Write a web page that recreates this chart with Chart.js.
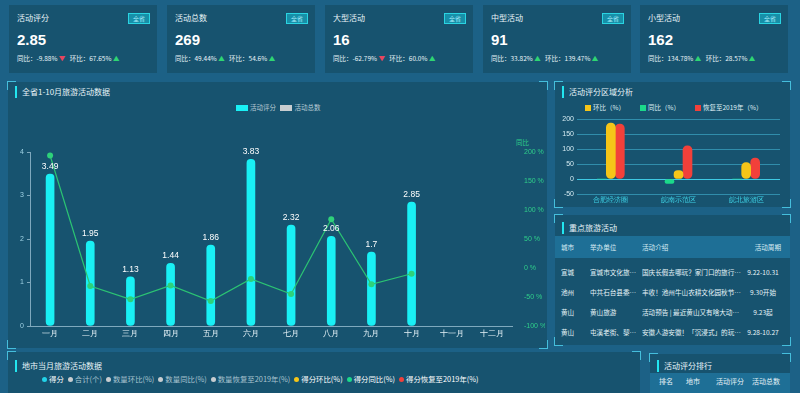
<!DOCTYPE html>
<html lang="zh">
<head>
<meta charset="UTF-8">
<title>旅游活动数据</title>
<script src="https://cdn.jsdelivr.net/npm/chart.js"></script>
<style>
  body { margin:0; width:800px; height:393px; overflow:hidden; background:#1c6186; position:relative;
         font-family:"Noto Sans CJK SC", "Noto Sans", sans-serif; color:#e8f4f8; }
  .card { position:absolute; top:5px; width:148px; height:68px; background:#17536f; }
  .card .t { position:absolute; left:8px; top:7px; font-size:8px; line-height:12px; }
  .card .tag { position:absolute; right:7px; top:8px; font-size:6px; line-height:9px; padding:0 4px;
               border:1px solid #2ad4e2; background:#178fa8; color:#aef; }
  .card .v { position:absolute; left:8px; top:26px; font:bold 15px/18px "Liberation Sans", Arial, sans-serif; color:#fff; }
  .card .s { position:absolute; left:8px; top:48px; font-size:6.5px; line-height:10px; white-space:nowrap; }
  .up { color:#2ed573; } .down { color:#e8455e; }
  .panel { position:absolute; background:#17536f; }
  .c { position:absolute; width:8px; height:8px; border-color:#45bedc; border-style:solid; border-width:0; }
  .ptitle { position:absolute; left:7px; top:4px; font-size:8px; line-height:12px; padding-left:5px; border-left:2px solid #22e6f0; white-space:nowrap; }
  .lg { position:absolute; font-size:6.5px; line-height:10px; white-space:nowrap; color:#dfeef4; }
  .lg i { display:inline-block; vertical-align:middle; margin-right:2px; }
  #cityLegend span.it { margin-right:4px; }
  canvas { position:absolute; }
  table { position:absolute; border-collapse:collapse; table-layout:fixed; font-size:6.6px; color:#e6f3f8; }
  td, th { padding:0; font-weight:normal; white-space:nowrap; overflow:hidden; text-overflow:ellipsis; text-align:left; }
</style>
</head>
<body>

<div class="card" style="left:9px"><div class="t">活动评分</div><div class="tag">全省</div><div class="v">2.85</div>
  <div class="s">同比：-9.88% <span class="down">▼</span>&nbsp;&nbsp; 环比：67.65% <span class="up">▲</span></div></div>
<div class="card" style="left:167px"><div class="t">活动总数</div><div class="tag">全省</div><div class="v">269</div>
  <div class="s">同比：49.44% <span class="up">▲</span>&nbsp;&nbsp; 环比：54.6% <span class="up">▲</span></div></div>
<div class="card" style="left:325px"><div class="t">大型活动</div><div class="tag">全省</div><div class="v">16</div>
  <div class="s">同比：-62.79% <span class="down">▼</span>&nbsp;&nbsp; 环比：60.0% <span class="up">▲</span></div></div>
<div class="card" style="left:483px"><div class="t">中型活动</div><div class="tag">全省</div><div class="v">91</div>
  <div class="s">同比：33.82% <span class="up">▲</span>&nbsp;&nbsp; 环比：139.47% <span class="up">▲</span></div></div>
<div class="card" style="left:640px"><div class="t">小型活动</div><div class="tag">全省</div><div class="v">162</div>
  <div class="s">同比：134.78% <span class="up">▲</span>&nbsp;&nbsp; 环比：28.57% <span class="up">▲</span></div></div>

<!-- 全省1-10月 -->
<div class="panel" style="left:8px;top:82px;width:539px;height:266px">
  <div class="ptitle">全省1-10月旅游活动数据</div>
</div>
<div class="lg" style="left:236px;top:102px;color:#b9ccd6"><i style="width:12px;height:6px;background:#19f0f5"></i>活动评分&nbsp;&nbsp;&nbsp;<i style="width:12px;height:6px;background:#c8cdd0"></i>活动总数</div>
<div class="lg" style="left:516px;top:137px;color:#2fcf8a">同比</div>
<canvas id="mainChart" width="535" height="215" style="left:10px;top:130px"></canvas>

<!-- 区域分析 -->
<div class="panel" style="left:555px;top:82px;width:235px;height:125px">
  <div class="ptitle">活动评分区域分析</div>
</div>
<div class="lg" style="left:585px;top:102px"><i style="width:6px;height:6px;background:#f5c518"></i>环比（%）</div>
<div class="lg" style="left:640px;top:102px"><i style="width:6px;height:6px;background:#1bd98a"></i>同比（%）</div>
<div class="lg" style="left:695px;top:102px"><i style="width:6px;height:6px;background:#f2403a"></i>恢复至2019年（%）</div>
<canvas id="areaChart" width="231" height="95" style="left:557px;top:112px"></canvas>

<!-- 重点旅游活动 -->
<div class="panel" style="left:555px;top:215px;width:235px;height:130px">
  <div class="ptitle" style="top:7px">重点旅游活动</div>
  <div style="position:absolute;left:0;top:21px;width:235px;height:22px;background:#1e6f96"></div>
</div>
<table id="evTable" style="left:561px;top:236px;width:222px"></table>

<!-- 地市当月 -->
<div class="panel" style="left:8px;top:352px;width:632px;height:50px">
  <div class="ptitle" style="top:8px">地市当月旅游活动数据</div>
</div>
<div class="lg" id="cityLegend" style="left:42px;top:374px;font-size:7.4px"></div>

<!-- 排行 -->
<div class="panel" style="left:650px;top:354px;width:140px;height:48px">
  <div class="ptitle" style="top:6px">活动评分排行</div>
  <div style="position:absolute;left:0;top:19px;width:140px;height:30px;background:#1e6f96"></div>
</div>
<div class="lg" style="left:659px;top:376px;font-size:7px;color:#e6f3f8">排名</div>
<div class="lg" style="left:686px;top:376px;font-size:7px;color:#e6f3f8">地市</div>
<div class="lg" style="left:716px;top:376px;font-size:7px;color:#e6f3f8">活动评分</div>
<div class="lg" style="left:752px;top:376px;font-size:7px;color:#e6f3f8">活动总数</div>

<script>
// ---- 数据 ----
const months = ['一月', '二月', '三月', '四月', '五月', '六月', '七月', '八月', '九月', '十月', '十一月', '十二月'];
const scores = [3.49, 1.95, 1.13, 1.44, 1.86, 3.83, 2.32, 2.06, 1.7, 2.85];
const scoreYoY = [194, -31, -54, -30, -57, -19, -45, 84, -28, -9.88];
const leftTicks = [0, 4, 1];
const rightTicks = [-100, 200, 50];

const areas = ['合肥经济圈', '皖南示范区', '皖北旅游区'];
const areaYoY = [0, -15, 0];
const areaMoM = [187, 28, 55];
const areaTo2019 = [184, 111, 70];
const areaTicks = [-50, 200, 50];

const events = [
    ['宣城', '宣城市文化旅…', '国庆长假去哪玩？家门口的旅行总归不会错的', '9.22-10.31'],
    ['池州', '中共石台县委…', '丰收！池州牛山农耕文化园秋节9月30日开幕', '9.30开始'],
    ['黄山', '黄山旅游', '活动预告 | 最近黄山又有啥大动作？快来看', '9.23起'],
    ['黄山', '屯溪老街、黎阳…', '安徽人游安徽！「沉浸式」的玩乐体验等你来', '9.28-10.27']
];
const cityItems = [
    ['得分', '#22d3e8', true], ['合计(个)', '#c8cdd0', false], ['数量环比(%)', '#c8cdd0', false],
    ['数量同比(%)', '#c8cdd0', false], ['数量恢复至2019年(%)', '#c8cdd0', false],
    ['得分环比(%)', '#f5c518', true], ['得分同比(%)', '#1bd98a', true], ['得分恢复至2019年(%)', '#f2403a', true]
];

// 面板角标
document.querySelectorAll('.panel').forEach(p => {
    [['left', 'top'], ['right', 'top'], ['left', 'bottom'], ['right', 'bottom']].forEach(([h, v]) => {
        const d = document.createElement('div');
        d.className = 'c';
        d.style[h] = '-1px';
        d.style[v] = '-1px';
        d.style['border-' + h + '-width'] = '1px';
        d.style['border-' + v + '-width'] = '1px';
        p.appendChild(d);
    });
});

// 表格
const tbl = document.getElementById('evTable');
tbl.innerHTML = '<colgroup><col style="width:29px"><col style="width:52px"><col style="width:101px"><col style="width:40px"></colgroup>' +
    '<tr style="height:22px;color:#d8ecf4"><th>城市</th><th>举办单位</th><th>活动介绍</th><th style="text-align:right;padding-right:2px">活动周期</th></tr>' +
    '<tr style="height:4px"><td colspan="4"></td></tr>' +
    events.map(r => '<tr style="height:20px"><td>' + r[0] + '</td><td>' + r[1] + '</td><td>' + r[2] + '</td><td style="text-align:center">' + r[3] + '</td></tr>').join('');

document.getElementById('cityLegend').innerHTML = cityItems.map(it =>
    '<span class="it"><i style="width:5px;height:5px;border-radius:50%;background:' + it[1] + '"></i><span style="color:' + (it[2] ? '#fff' : '#a9c4d0') + '">' + it[0] + '</span></span>'
).join('');

// 柱顶数值
const barLabels = {
    id: 'barLabels',
    afterDatasetsDraw(chart) {
        const ctx = chart.ctx;
        const meta = chart.getDatasetMeta(0);
        ctx.save();
        ctx.fillStyle = '#ffffff';
        ctx.font = '8.5px "Liberation Sans", Arial, sans-serif';
        ctx.textAlign = 'center';
        ctx.textBaseline = 'bottom';
        meta.data.forEach((bar, i) => {
            ctx.fillText(scores[i], bar.x, bar.y - 3);
        });
        ctx.restore();
    }
};

new Chart(document.getElementById('mainChart'), {
    data: {
        labels: months,
        datasets: [{
            type: 'bar',
            label: '活动评分',
            data: scores,
            yAxisID: 'y',
            backgroundColor: '#19f0f5',
            barThickness: 8,
            borderRadius: 4,
            borderSkipped: false,
            order: 1
        }, {
            type: 'line',
            label: '同比',
            data: scoreYoY,
            yAxisID: 'y1',
            borderColor: '#2bc473',
            borderWidth: 1.2,
            pointRadius: 3,
            pointBackgroundColor: '#2ed17a',
            pointBorderWidth: 0,
            tension: 0,
            order: 0
        }]
    },
    options: {
        responsive: false,
        animation: false,
        layout: { padding: { top: 22 } },
        plugins: { legend: { display: false }, tooltip: { enabled: false } },
        scales: {
            x: {
                grid: { display: false, drawTicks: false },
                border: { color: '#7fa9bd' },
                ticks: { color: '#e6f3f8', font: { size: 7.5 }, padding: 3, maxRotation: 0, autoSkip: false },
                afterFit(s) { s.height = 19; }
            },
            y: {
                position: 'left',
                min: leftTicks[0], max: leftTicks[1],
                ticks: { stepSize: leftTicks[2], color: '#9fd2e4', font: { size: 7 }, padding: 3 },
                grid: { drawOnChartArea: false, drawTicks: true, tickLength: 3, color: '#7fa9bd' },
                border: { color: '#7fa9bd' },
                afterFit(s) { s.width = 20; }
            },
            y1: {
                position: 'right',
                min: rightTicks[0], max: rightTicks[1],
                ticks: { stepSize: rightTicks[2], color: '#2fcf8a', font: { size: 7 }, padding: 4, callback: v => v + ' %' },
                grid: { display: false },
                border: { display: false },
                afterFit(s) { s.width = 33; }
            }
        }
    },
    plugins: [barLabels]
});

new Chart(document.getElementById('areaChart'), {
    type: 'bar',
    data: {
        labels: areas,
        datasets: [
            { label: '同比（%）', data: areaYoY, backgroundColor: '#1bd98a' },
            { label: '环比（%）', data: areaMoM, backgroundColor: '#f5c518' },
            { label: '恢复至2019年（%）', data: areaTo2019, backgroundColor: '#f2403a' }
        ]
    },
    options: {
        responsive: false,
        animation: false,
        layout: { padding: { top: 7, right: 8 } },
        datasets: { bar: { barThickness: 9, borderRadius: 5, borderSkipped: false, categoryPercentage: 0.53 } },
        plugins: { legend: { display: false }, tooltip: { enabled: false } },
        scales: {
            x: {
                grid: { display: false, drawTicks: false },
                border: { display: false },
                ticks: { color: '#3fd3e6', font: { size: 6.5 }, padding: 2, maxRotation: 0 },
                afterFit(s) { s.height = 13; }
            },
            y: {
                min: areaTicks[0], max: areaTicks[1],
                ticks: { stepSize: areaTicks[2], color: '#d6ecf3', font: { size: 7 }, padding: 3 },
                grid: { color: c => c.tick.value === 0 ? '#3fc9e3' : 'rgba(70,190,220,0.55)', drawTicks: false },
                border: { display: false },
                afterFit(s) { s.width = 20; }
            }
        }
    }
});
</script>
</body>
</html>
